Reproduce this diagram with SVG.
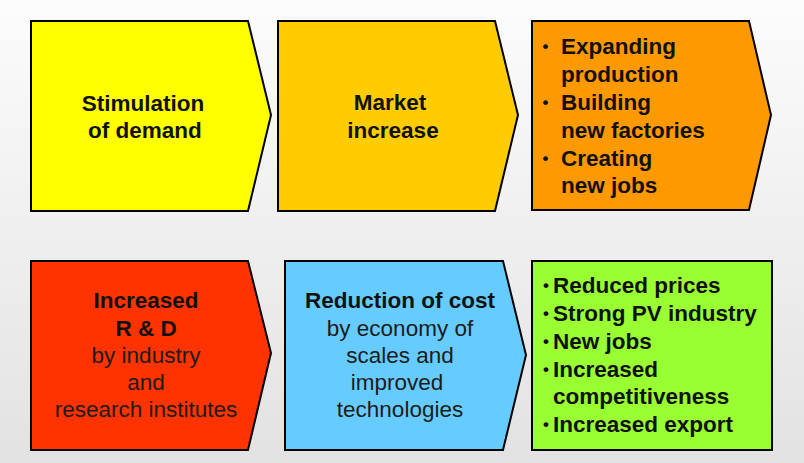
<svg xmlns="http://www.w3.org/2000/svg" width="804" height="463" viewBox="0 0 804 463">
<defs>
<linearGradient id="bg" x1="0" y1="0" x2="0" y2="1">
<stop offset="0" stop-color="#fcfcfc"/>
<stop offset="1" stop-color="#e2e2e2"/>
</linearGradient>
</defs>
<style>
.box{stroke:#000;stroke-width:2;stroke-linejoin:miter}
text{font-family:"Liberation Sans",Arial,sans-serif;font-size:22.5px;fill:#111}
.b{font-weight:bold}
.r{fill:#1c1c1c}
.c{text-anchor:middle}
.dot{font-size:17px;font-weight:bold;text-anchor:middle}
</style>
<rect x="0" y="0" width="804" height="463" fill="url(#bg)"/>
<g id="connectors"/>
<g id="stimulation">
<polygon class="box" fill="#ffff00" points="31,21 248,21 271,115 248,211 31,211"/>
<text class="b c" x="143" y="111">Stimulation</text>
<text class="b c" x="145" y="138">of demand</text>
</g>
<g id="market">
<polygon class="box" fill="#ffcc00" points="278,21 495,21 518,115 495,211 278,211"/>
<text class="b c" x="390" y="110">Market</text>
<text class="b c" x="393" y="138">increase</text>
</g>
<g id="expanding">
<polygon class="box" fill="#ff9900" points="532,21 749,21 771,115 749,210 532,210"/>
<text class="dot" x="545.5" y="52">•</text><text class="b" x="561" y="54">Expanding</text>
<text class="b" x="561" y="82">production</text>
<text class="dot" x="545.5" y="108">•</text><text class="b" x="561" y="110">Building</text>
<text class="b" x="561" y="138">new factories</text>
<text class="dot" x="545.5" y="164">•</text><text class="b" x="561" y="166">Creating</text>
<text class="b" x="561" y="193">new jobs</text>
</g>
<g id="rnd">
<polygon class="box" fill="#ff3300" points="31,261 248,261 271,353 248,450 31,450"/>
<text class="b c" x="146" y="308">Increased</text>
<text class="b c" x="146" y="336">R &amp; D</text>
<text class="r c" x="146" y="363">by industry</text>
<text class="r c" x="146" y="390">and</text>
<text class="r c" x="146" y="417">research institutes</text>
</g>
<g id="reduction">
<polygon class="box" fill="#66ccff" points="285,261 503,261 526,355 503,450 285,450"/>
<text class="b c" x="400" y="308">Reduction of cost</text>
<text class="r c" x="400" y="336">by economy of</text>
<text class="r c" x="400" y="363">scales and</text>
<text class="r c" x="397" y="390">improved</text>
<text class="r c" x="400" y="417">technologies</text>
</g>
<g id="results">
<rect class="box" fill="#99ff33" x="532" y="261" width="240" height="189"/>
<text class="dot" x="546" y="291">•</text><text class="b" x="553" y="293">Reduced prices</text>
<text class="dot" x="546" y="319">•</text><text class="b" x="553" y="321">Strong PV industry</text>
<text class="dot" x="546" y="347">•</text><text class="b" x="553" y="349">New jobs</text>
<text class="dot" x="546" y="375">•</text><text class="b" x="553" y="377">Increased</text>
<text class="b" x="553" y="404">competitiveness</text>
<text class="dot" x="546" y="430">•</text><text class="b" x="553" y="432">Increased export</text>
</g>
</svg>
